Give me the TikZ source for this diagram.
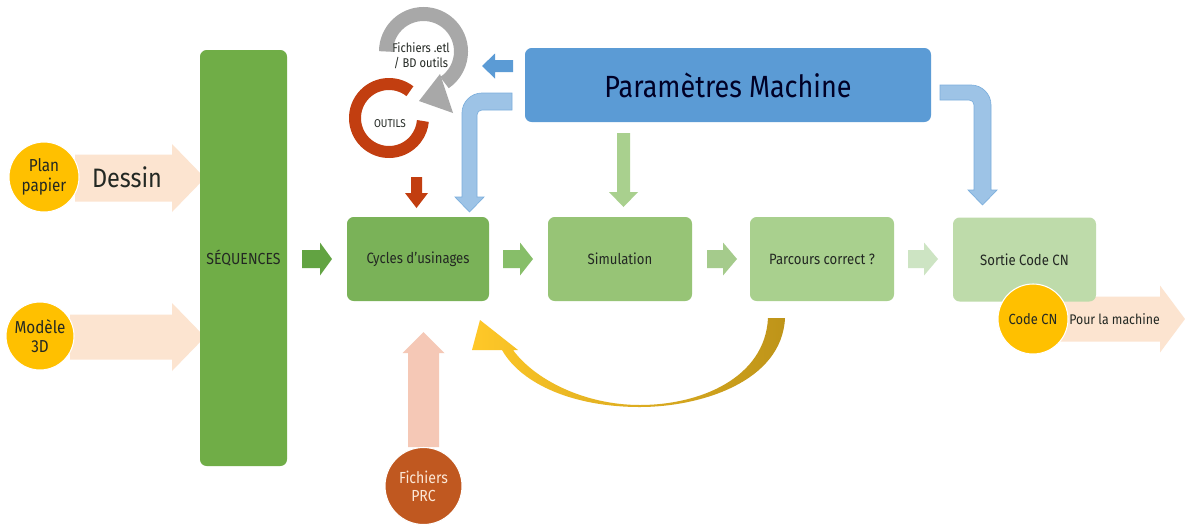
\documentclass[tikz,border=0pt]{standalone}
\usepackage{fontspec}
\setmainfont[FakeStretch=0.88]{Fira Sans}
\usetikzlibrary{arrows.meta}
\definecolor{seqg}{RGB}{112,173,71}
\definecolor{cycg}{RGB}{122,178,88}
\definecolor{simg}{RGB}{151,196,118}
\definecolor{parg}{RGB}{169,208,142}
\definecolor{sorg}{RGB}{190,219,170}
\definecolor{ag1}{RGB}{98,163,66}
\definecolor{ag2}{RGB}{135,190,105}
\definecolor{ag3}{RGB}{165,203,140}
\definecolor{ag4}{RGB}{205,228,195}
\definecolor{pmblue}{RGB}{91,155,213}
\definecolor{lblue}{RGB}{157,195,230}
\definecolor{peach}{RGB}{252,228,208}
\definecolor{gold}{RGB}{255,192,0}
\definecolor{prcbrown}{RGB}{192,88,32}
\definecolor{pink}{RGB}{245,200,182}
\definecolor{redarc}{RGB}{194,62,16}
\definecolor{grayarc}{RGB}{168,168,168}
\definecolor{txt}{RGB}{35,40,35}
\newcommand\harr[7]{\fill[#7] (#1,{#3-#4}) -- ({#2-#6},{#3-#4}) -- ({#2-#6},{#3-#5}) -- (#2,#3) -- ({#2-#6},{#3+#5}) -- ({#2-#6},{#3+#4}) -- (#1,{#3+#4}) -- cycle;}
\newcommand\varr[7]{\fill[#7] ({#1-#4},#2) -- ({#1-#4},{#3+#6}) -- ({#1-#5},{#3+#6}) -- (#1,#3) -- ({#1+#5},{#3+#6}) -- ({#1+#4},{#3+#6}) -- ({#1+#4},#2) -- cycle;}
\begin{document}
\begin{tikzpicture}[x=0.75pt,y=0.75pt,
  box/.style={rounded corners=5pt, inner sep=0pt, text=txt, font=\fontsize{11.2pt}{12pt}\selectfont},
  disc/.style={circle, inner sep=0pt, fill=gold, draw=white, line width=0.8pt, text=txt, align=center, font=\fontsize{13pt}{14.5pt}\selectfont}]
\useasboundingbox (0,0) rectangle (1185,-526);
\fill[white] (0,0) rectangle (1185,-526);

% input arrows
\harr{75}{205}{-178}{23.5}{34}{33}{peach}
\harr{70}{205}{-337}{22.5}{34}{33}{peach}
\harr{1040}{1185}{-319}{22.5}{33.5}{25}{peach}

% main boxes
\node[box, fill=seqg, minimum width=65.25pt, minimum height=312pt, font=\fontsize{12pt}{13pt}\selectfont] (seq) at (243.5,-258) {SÉQUENCES};
\node[box, fill=cycg, minimum width=106.5pt, minimum height=63pt] (cyc) at (418,-259) {Cycles d’usinages};
\node[box, fill=simg, minimum width=108pt, minimum height=63pt] (sim) at (620,-259) {Simulation};
\node[box, fill=parg, minimum width=108pt, minimum height=63pt] (par) at (822,-259) {Parcours correct ?};
\node[box, fill=sorg, minimum width=107.25pt, minimum height=63pt] (sor) at (1024.5,-259.5) {Sortie Code CN};
\node[box, fill=pmblue, text=black!85!blue, minimum width=304.5pt, minimum height=55.5pt, font=\fontsize{23pt}{26pt}\selectfont] (pm) at (728,-85) {Paramètres Machine};

% green flow arrows
\harr{302}{332}{-259}{9}{16.5}{12}{ag1}
\harr{503}{533}{-259}{9}{16.5}{13}{ag2}
\harr{707}{737}{-259}{9}{16.5}{14}{ag3}
\harr{908}{938}{-259}{9}{16.5}{14}{ag4}

% arrows from Parametres
\harr{513}{482}{-66}{6}{12.5}{-13}{pmblue}
\varr{623.5}{-133}{-207}{6.5}{14.5}{15}{parg}
\filldraw[fill=lblue, draw=pmblue!80, line width=0.5pt]
  (512,-93) -- (482,-93) .. controls (471,-93) and (462,-102) .. (462,-113) -- (462,-197) -- (455,-197) -- (469.5,-212) -- (484,-197) -- (477,-197) -- (477,-115) .. controls (477,-112) and (479,-110) .. (482,-110) -- (512,-110) -- cycle;
\filldraw[fill=lblue, draw=pmblue!80, line width=0.5pt]
  (940,-85) -- (971,-85) .. controls (982,-85) and (991,-94) .. (991,-105) -- (991,-190) -- (997,-190) -- (982.5,-205) -- (968,-190) -- (974,-190) -- (974,-105) .. controls (974,-102) and (972,-100) .. (969,-100) -- (940,-100) -- cycle;

% tools cycle
\draw[line width=9pt, redarc] (389,-118) ++(52:34) arc[start angle=52, end angle=355, radius=34];
\draw[line width=10.5pt, grayarc] (423.5,-51.5) ++(180:37.5) arc[start angle=180, end angle=-56, radius=37.5];
\fill[grayarc] (440,-74) -- (453,-113) -- (419,-101) -- cycle;
\node[text=txt, align=center, font=\fontsize{9.5pt}{11pt}\selectfont] (fetl) at (421,-56) {Fichiers .etl\\/ BD outils};
\node[text=txt, font=\fontsize{8.5pt}{10pt}\selectfont] (outils) at (390,-124) {OUTILS};
\varr{416.5}{-177}{-208}{5.5}{11.5}{15}{redarc}

% PRC
\varr{423.5}{-447}{-332}{15.5}{21}{-21}{pink}
\node[disc, fill=prcbrown, text={rgb,255:red,252;green,232;blue,215}, minimum size=57.75pt, font=\fontsize{12pt}{13.5pt}\selectfont] (prc) at (423.5,-486) {Fichiers\\PRC};

% loop back arrow
\shade[left color={rgb,255:red,255;green,200;blue,40}, right color={rgb,255:red,190;green,148;blue,25}]
  (785,-318) .. controls (782,-382) and (700,-407) .. (640,-407) .. controls (575,-407) and (522,-385) .. (502,-350)
  -- (472,-350) -- (480,-320) -- (518,-350) -- (513,-350)
  .. controls (535,-380) and (585,-405) .. (640,-405) .. controls (700,-405) and (765,-378) .. (768,-318) -- cycle;

% discs
\node[disc, minimum size=52.5pt] (plan) at (44,-177) {Plan\\papier};
\node[disc, minimum size=51pt] (mod) at (40,-336) {Modèle\\3D};
\node[disc, minimum size=52.5pt, font=\fontsize{11pt}{12pt}\selectfont] (ccn) at (1033,-319) {Code CN};
\node[text=txt, font=\fontsize{20pt}{22pt}\selectfont] (dessin) at (127,-177) {Dessin};
\node[text=txt, anchor=west, inner sep=0pt, font=\fontsize{10.5pt}{12pt}\selectfont] (pour) at (1069,-319) {Pour la machine};
\end{tikzpicture}
\end{document}
